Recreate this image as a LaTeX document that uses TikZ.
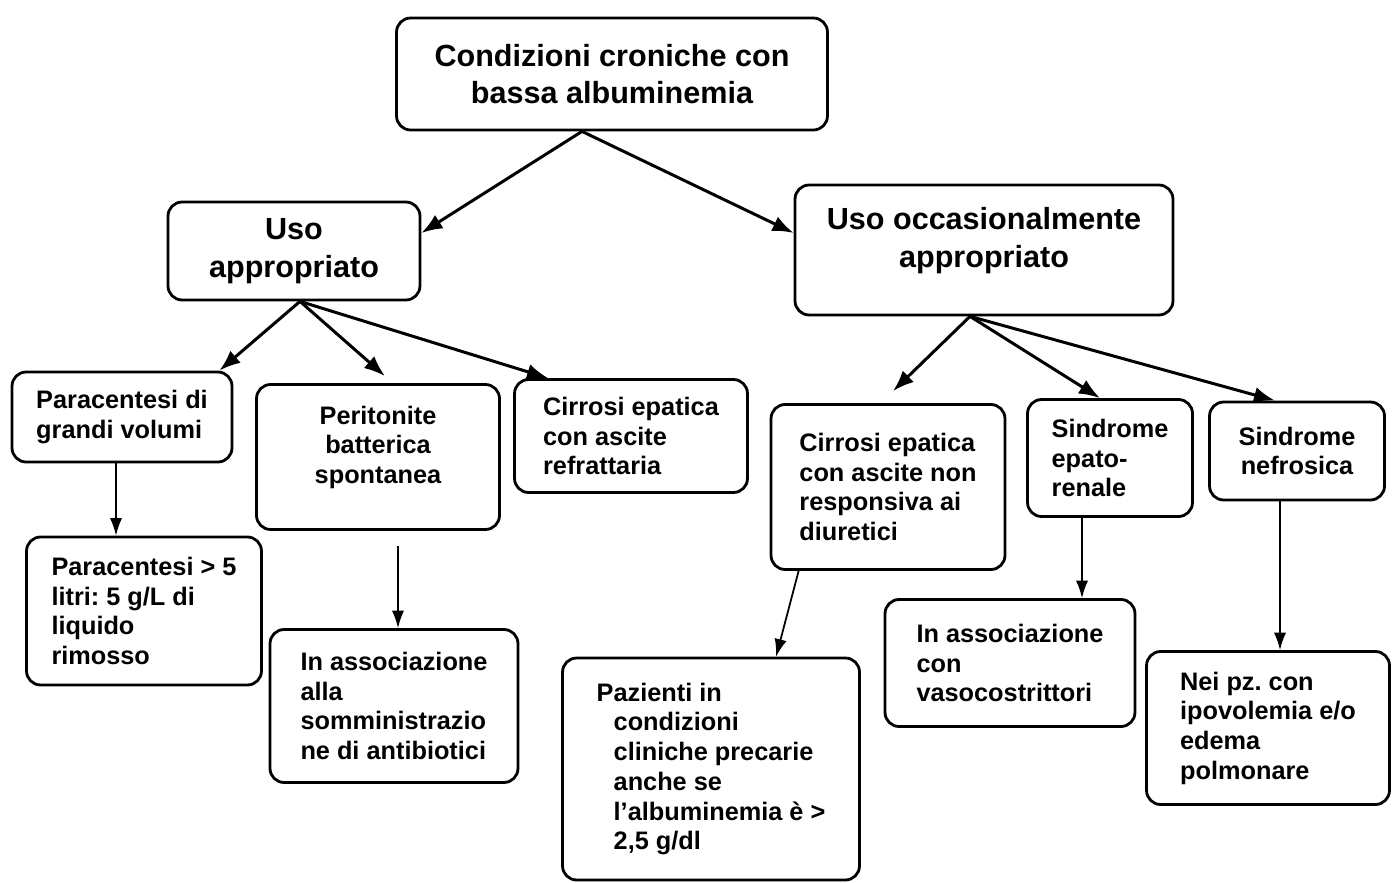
\documentclass[tikz,border=0pt]{standalone}
\usepackage{fontspec}
\setmainfont{Liberation Sans}
\usetikzlibrary{arrows.meta}
\frenchspacing

\begin{document}
\begin{tikzpicture}[x=0.02cm,y=-0.02cm,
  box/.style={rectangle,draw,line width=1.6pt,rounded corners=8pt,
    inner sep=0pt,font=\fontsize{14.4}{16.9}\selectfont\bfseries},
  bigbox/.style={box,align=center,font=\fontsize{17.4}{21.3}\selectfont\bfseries},
  arr/.style={-{Latex[length=12pt,width=9pt]},line width=1.7pt},
  arrthin/.style={-{Latex[length=10pt,width=7pt]},line width=1pt}]

  \useasboundingbox (0,0) rectangle (1392,882);

  % top levels
  \node[bigbox,minimum width=8.62cm,minimum height=2.24cm] (cond) at (612,74) {Condizioni croniche con\\bassa albuminemia};
  \node[bigbox,minimum width=5.04cm,minimum height=1.96cm] (appr) at (294,251) {Uso\\appropriato};
  \node[bigbox,minimum width=7.56cm,minimum height=2.6cm,text depth=16.6pt] (occ) at (984,250) {\begin{tabular}[b]{@{}c@{}}Uso occasionalmente\\appropriato\end{tabular}};

  % indications
  \node[box,align=left,minimum width=4.4cm,minimum height=1.8cm] (para) at (122,417) {Paracentesi di\\grandi volumi};
  \node[box,minimum width=4.86cm,minimum height=2.9cm,text depth=15.3pt] (perit) at (378,457) {\begin{tabular}[b]{@{}c@{}}Peritonite\\batterica\\spontanea\end{tabular}};
  \node[box,align=left,minimum width=4.66cm,minimum height=2.26cm] (cirr) at (631,436) {Cirrosi epatica\\con ascite\\refrattaria};
  \node[box,align=left,minimum width=4.68cm,minimum height=3.3cm] (cirrnr) at (888,487) {Cirrosi epatica\\con ascite non\\responsiva ai\\diuretici};
  \node[box,align=left,minimum width=3.3cm,minimum height=2.34cm] (epato) at (1110,458) {Sindrome\\epato-\\renale};
  \node[box,align=center,minimum width=3.5cm,minimum height=1.96cm] (nefro) at (1297,451) {Sindrome\\nefrosica};

  % details
  \node[box,align=left,minimum width=4.7cm,minimum height=2.96cm] (parag) at (144,611) {Paracentesi > 5\\litri: 5 g/L di\\liquido\\rimosso};
  \node[box,align=left,minimum width=4.96cm,minimum height=3.06cm] (antib) at (394,706) {In associazione\\alla\\somministrazio\\ne di antibiotici};
  \node[box,align=left,minimum width=5.94cm,minimum height=4.44cm] (paz) at (711,769) {Pazienti in\\\hspace*{0.34cm}condizioni\\\hspace*{0.34cm}cliniche precarie\\\hspace*{0.34cm}anche se\\\hspace*{0.34cm}l’albuminemia è >\\\hspace*{0.34cm}2,5 g/dl};
  \node[box,align=left,minimum width=5cm,minimum height=2.54cm] (vaso) at (1010,663) {In associazione\\con\\vasocostrittori};
  \node[box,align=left,minimum width=4.86cm,minimum height=3.06cm] (nei) at (1268,728) {Nei pz. con\\ipovolemia e/o\\edema\\polmonare};

  \draw[arr] ([xshift=-0.6cm]cond.south) -- ([yshift=0.36cm]appr.east);
  \draw[arr] ([xshift=-0.6cm]cond.south) -- ([yshift=0.34cm]occ.west);

  \draw[arr] ([xshift=0.12cm]appr.south) -- ([xshift=-0.28cm]para.north east);
  \draw[arr] ([xshift=0.12cm]appr.south) -- ([xshift=0.14cm,yshift=0.14cm]perit.north);
  \draw[arr] ([xshift=0.12cm]appr.south) -- ([xshift=0.7cm]cirr.north west);
  \draw[arr] ([xshift=-0.28cm]occ.south) -- ([xshift=0.1cm,yshift=0.24cm]cirrnr.north);
  \draw[arr] ([xshift=-0.28cm]occ.south) -- ([xshift=-0.2cm]epato.north);
  \draw[arr] ([xshift=-0.28cm]occ.south) -- ([xshift=-0.44cm]nefro.north);

  \draw[arrthin] ([xshift=-0.12cm]para.south) -- ([xshift=-0.12cm]para.south |- parag.north);
  \draw[arrthin] ([xshift=0.4cm,yshift=-0.3cm]perit.south) -- ([xshift=0.4cm]perit.south |- antib.north);
  \draw[arrthin] ([xshift=0.58cm]cirrnr.south west) -- ([xshift=4.3cm]paz.north west);
  \draw[arrthin] ([xshift=-0.56cm]epato.south) -- ([xshift=-0.56cm]epato.south |- vaso.north);
  \draw[arrthin] ([xshift=-0.34cm]nefro.south) -- ([xshift=-0.34cm]nefro.south |- nei.north);
\end{tikzpicture}
\end{document}
